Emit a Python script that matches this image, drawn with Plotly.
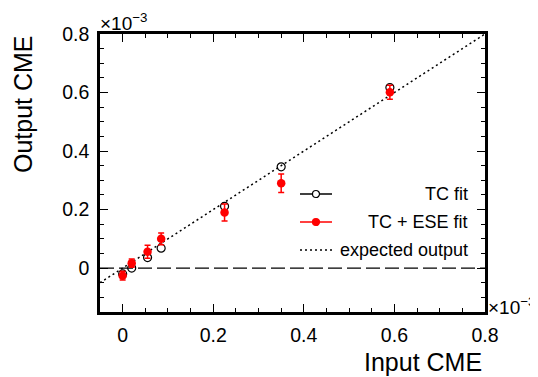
import plotly.graph_objects as go

# data (units of 1e-3)
input_cme = [0.0, 0.02, 0.055, 0.085, 0.225, 0.35, 0.59]
tc_fit = [-0.02, 0.0, 0.036, 0.068, 0.211, 0.346, 0.617]
tc_ese_fit = [-0.026, 0.017, 0.056, 0.100, 0.190, 0.290, 0.601]
tc_ese_err = [0.015, 0.014, 0.022, 0.020, 0.029, 0.032, 0.024]
expected_x = [-0.05, 0.8]
expected_y = [-0.05, 0.8]
zero_x = [-0.05, 0.8]
zero_y = [0.0, 0.0]

OFF = 8  # page body margin
W, H = 538 - OFF, 377 - OFF
L, R, T, B = 100, 485, 34, 312  # plot area in page pixels
FONT = "Liberation Sans, Arial, sans-serif"

def px(x):
    return (x - L) / (R - L)

def py(y):
    return (B - y) / (B - T)

fig = go.Figure()
fig.add_trace(go.Scatter(x=zero_x, y=zero_y, mode="lines",
                         line=dict(color="black", width=1.3, dash="14px,5px"),
                         showlegend=False, hoverinfo="skip"))
fig.add_trace(go.Scatter(x=expected_x, y=expected_y, mode="lines",
                         line=dict(color="black", width=1.5, dash="2px,3px"),
                         showlegend=False))
fig.add_trace(go.Scatter(x=input_cme, y=tc_fit, mode="markers",
                         marker=dict(symbol="circle-open", size=8, color="black",
                                     line=dict(width=1.2, color="black")),
                         showlegend=False))
fig.add_trace(go.Scatter(x=input_cme, y=tc_ese_fit, mode="markers",
                         marker=dict(symbol="circle", size=8.5, color="red"),
                         error_y=dict(type="data", array=tc_ese_err, color="red",
                                      thickness=1.5, width=3),
                         showlegend=False))

axis_common = dict(
    showline=True, linecolor="black", linewidth=2.5, mirror="allticks",
    ticks="inside", ticklen=8, tickwidth=1.2, tickcolor="black",
    showgrid=False, zeroline=False,
    tickfont=dict(family=FONT, size=19.5, color="black"),
    dtick=0.2,
    minor=dict(ticks="inside", ticklen=4, tickwidth=1, dtick=0.05, tickcolor="black", showgrid=False),
)
fig.update_xaxes(range=[-0.05, 0.8], tick0=0, ticklabelstandoff=4, **axis_common)
fig.update_yaxes(range=[-0.15, 0.8], tick0=0, ticklabelstandoff=4, **axis_common)

shapes = []
annotations = []
# legend
rows = [(194, "TC fit", "black", "open"), (222, "TC + ESE fit", "red", "filled"),
        (250, "expected output", "black", "dotted")]
for yy, label, col, kind in rows:
    if kind == "dotted":
        shapes.append(dict(type="line", xref="paper", yref="paper",
                           x0=px(300), x1=px(332), y0=py(yy), y1=py(yy),
                           line=dict(color="black", width=1.5, dash="2px,3px")))
    else:
        shapes.append(dict(type="line", xref="paper", yref="paper",
                           x0=px(300), x1=px(332), y0=py(yy), y1=py(yy),
                           line=dict(color=col, width=1.5)))
        shapes.append(dict(type="circle", xref="paper", yref="paper",
                           x0=px(312.5), x1=px(319.5), y0=py(yy + 3.5), y1=py(yy - 3.5),
                           fillcolor="white" if kind == "open" else col,
                           line=dict(color=col, width=1.2)))
    annotations.append(dict(xref="paper", yref="paper", x=px(470), y=py(yy),
                            text=label, showarrow=False, xanchor="right", yanchor="middle",
                            font=dict(family=FONT, size=18, color="black")))

annotations += [
    dict(xref="paper", yref="paper", x=px(98), y=py(36), text="×10<sup>−3</sup>",
         showarrow=False, xanchor="left", yanchor="bottom",
         font=dict(family=FONT, size=19, color="black")),
    dict(xref="paper", yref="paper", x=px(486), y=py(306), text="×10<sup>−3</sup>",
         showarrow=False, xanchor="left", yanchor="middle",
         font=dict(family=FONT, size=19, color="black")),
    dict(xref="paper", yref="paper", x=px(484), y=py(362), text="Input CME",
         showarrow=False, xanchor="right", yanchor="middle",
         font=dict(family=FONT, size=25, color="black")),
    dict(xref="paper", yref="paper", x=px(23), y=py(33), text="Output CME",
         showarrow=False, xanchor="center", yanchor="top", textangle=-90,
         font=dict(family=FONT, size=25, color="black")),
]

fig.update_layout(
    width=W, height=H,
    margin=dict(l=L - OFF, r=W - (R - OFF), t=T - OFF, b=H - (B - OFF), pad=0),
    paper_bgcolor="white", plot_bgcolor="white",
    shapes=shapes, annotations=annotations, showlegend=False,
    font=dict(family=FONT),
)
fig.write_html("out.html")
